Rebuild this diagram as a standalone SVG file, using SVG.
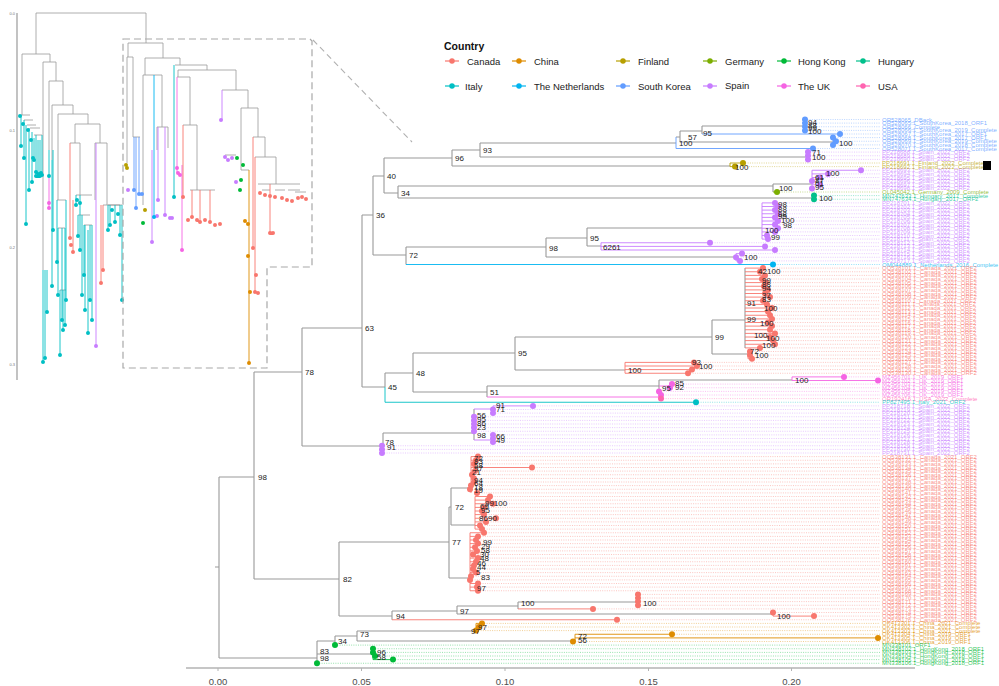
<svg xmlns="http://www.w3.org/2000/svg" width="999" height="686" viewBox="0 0 999 686">
<style>
.g{fill:none;stroke:#9a9a9a;stroke-width:1.1}
.ig{fill:none;stroke:#9a9a9a;stroke-width:0.8}
.il{fill:none;stroke-width:0.9}
.dt{fill:none;stroke-linecap:round;stroke-width:6}
.idt{fill:none;stroke-linecap:round;stroke-width:4}
.gd{fill:none;stroke-width:0.7;stroke-dasharray:1 1.3;opacity:0.6}
.tl{font-family:"Liberation Sans",Arial,sans-serif;font-size:6px;fill-opacity:0.8}
.bs{font-family:"Liberation Sans",Arial,sans-serif;font-size:8px;fill:#222}
.lg{font-family:"Liberation Sans",Arial,sans-serif;font-size:9.5px;fill:#222}
.ax{font-family:"Liberation Sans",Arial,sans-serif;font-size:9.5px;fill:#4d4d4d;text-anchor:middle}
.Ca{stroke:#F8766D}.Ch{stroke:#DE8C00}.Fi{stroke:#B79F00}.Ge{stroke:#7CAE00}.HK{stroke:#00BA38}.Hu{stroke:#00C08B}
.It{stroke:#00BFC4}.Ne{stroke:#00B4F0}.SK{stroke:#619CFF}.Sp{stroke:#C77CFF}.UK{stroke:#F564E3}.US{stroke:#FF64B0}
.tCa{fill:#F8766D}.tCh{fill:#DE8C00}.tFi{fill:#B79F00}.tGe{fill:#7CAE00}.tHK{fill:#00BA38}.tHu{fill:#00C08B}
.tIt{fill:#00BFC4}.tNe{fill:#00B4F0}.tSK{fill:#619CFF}.tSp{fill:#C77CFF}.tUK{fill:#F564E3}.tUS{fill:#FF64B0}
</style>

<!-- Inset overview tree -->
<g id="inset">
<path d="M17 13V380" stroke="#9a9a9a" stroke-width="1.2" fill="none"/>
<g font-family="Liberation Sans, Arial, sans-serif" font-size="4" fill="#777" text-anchor="end">
<text x="15" y="15">0.0</text><text x="15" y="132">0.1</text><text x="15" y="249">0.2</text><text x="15" y="366">0.3</text>
</g>
<path class="ig" d="M36 13H146M36 13V54M146 13V43M22 54H50M22 54V115M50 54V62M43 62H56M43 62V270M56 62V81M49 81H63M49 81V150M63 81V105M52 105H73M52 105V160M73 105V114M58 114H88M58 114V200M88 114V124M75 124H100M75 124V143M100 124V143M70 143H80M80 143V195M95 143H107M95 143V200M107 143V205M21 115H30M24 120H33M27 125H36M30 128H40M34 135H42M57 200H66M58 228H65M60 290H66M76 195H92M78 215H90M84 225H92M103 205H122M108 205H120M128 43H163M128 43V57M163 43V58M127 57H133M127 57V163M133 57V137M133 137H140M145 58H180M145 58V75M180 58V65M143 75H162M143 75V205M162 75V127M157 127H168M157 127V150M168 127V148M175 65H207M207 65V70M178 70H236M178 70V77M177 77H190M190 77V125M183 125H197M197 125V190M190 190H215M236 70V90M222 90H248M248 90V108M225 155H236M241 108H258M241 108V170M258 108V137M253 137H265M265 137V157M255 157H276M276 157V184M258 184H300M262 190H270M275 190H285M288 190H300M295 192H306M241 170H249"/>
<path class="il It" d="M21 115V146M24 120V158M26 125V224M29 128V190M32 132V182M34 138V160M36 135V176M38 140V176M40 140V176M42 135V175M43 270V362M45 270V358M47 270V312M52 160V286M53 150V230M49 150V176M57 200V262M58 228V295M60 290V355M63 290V330M62 228V320M65 228V325M66 200V300M76 195V205M78 215V236M80 195V250M82 215V295M84 225V275M85 225V310M88 230V333M90 225V300M92 225V320M108 205V230M110 205V225M115 205V222M120 205V235M122 205V300M174 65V197"/>
<path class="il UK" d="M49 176V208M177 77V173M182 165V250"/>
<path class="il Ca" d="M70 143V238M73 200V252M101 205V283M103 205V270M253 137V248M255 157V293M183 125V197M270 184V233M192 190V217M200 190V222M210 190V222"/>
<path class="il Sp" d="M96 143V346M222 90V120M152 150V242M158 127V200M165 127V215"/>
<path class="il SK" d="M134 137V190M136 137V208M139 137V194"/>
<path class="il Ne" d="M154 75V217"/>
<path class="il Ch" d="M249 170V363" stroke-width="1.6"/>
<path class="idt It" d="M21 146h0M24 158h0M26 224h0M29 190h0M32 182h0M34 160h0M36 176h0M38 176h0M40 176h0M42 175h0M43 362h0M45 358h0M47 312h0M52 286h0M53 230h0M49 176h0M57 262h0M58 295h0M60 355h0M63 330h0M62 320h0M65 325h0M66 300h0M76 205h0M78 236h0M80 250h0M82 295h0M84 275h0M85 310h0M88 333h0M90 300h0M92 320h0M108 230h0M110 225h0M115 222h0M120 235h0M122 300h0M174 197h0M20 116h0M23 124h0M28 130h0M31 140h0M33 158h0M36 172h0M39 174h0M41 173h0M77 200h0M80 203h0M112 210h0M118 214h0"/>
<path class="idt UK" d="M49 203h0M49 208h0M177 168h0M178 173h0M182 250h0M180 175h0"/>
<path class="idt Ca" d="M70 238h0M73 252h0M71 245h0M101 283h0M103 270h0M253 248h0M256 275h0M258 293h0M255 292h0M183 197h0M270 233h0M273 233h0M260 193h0M265 195h0M270 196h0M275 197h0M282 198h0M287 200h0M292 201h0M298 198h0M302 197h0M306 199h0M192 217h0M197 220h0M200 222h0M205 220h0M210 222h0M215 225h0M220 224h0M188 220h0"/>
<path class="idt Sp" d="M96 346h0M221 120h0M152 242h0M158 200h0M165 215h0M157 216h0M170 218h0M172 218h0M225 157h0M228 160h0M232 158h0M236 182h0M128 190h0"/>
<path class="idt SK" d="M134 190h0M136 208h0M139 194h0M142 194h0"/>
<path class="idt Ne" d="M154 217h0"/>
<path class="idt Ch" d="M249 363h0M248 256h0M250 292h0M245 221h0M248 224h0"/>
<path class="idt Fi" d="M126 165h0M127 168h0M145 210h0"/>
<path class="idt HK" d="M143 223h0M237 158h0M243 165h0M241 180h0M240 190h0"/>
<path d="M123 39H310L312 41V267H267V368H123Z" fill="none" stroke="#a8a8a8" stroke-width="1.2" stroke-dasharray="7 4"/>
</g>
<path id="zoom-link" d="M313 40L412 142" fill="none" stroke="#b0b0b0" stroke-width="1.1" stroke-dasharray="6 4"/>

<!-- Legend -->
<g id="legend">
<text x="444" y="50" font-family="Liberation Sans, Arial, sans-serif" font-size="10.5" font-weight="bold" fill="#111">Country</text>
<g stroke-width="1.2">
<path class="Ca" d="M445 61H459"/><path class="Ch" d="M512 61H526"/><path class="Fi" d="M616 61H630"/><path class="Ge" d="M703 61H717"/><path class="HK" d="M777 61H791"/><path class="Hu" d="M856 61H870"/>
<path class="It" d="M445 86H459"/><path class="Ne" d="M512 86H526"/><path class="SK" d="M616 86H630"/><path class="Sp" d="M703 86H717"/><path class="UK" d="M777 86H791"/><path class="US" d="M856 86H870"/>
</g>
<g stroke-linecap="round" stroke-width="5.5">
<path class="Ca" d="M452 61h0"/><path class="Ch" d="M519 61h0"/><path class="Fi" d="M623 61h0"/><path class="Ge" d="M710 61h0"/><path class="HK" d="M784 61h0"/><path class="Hu" d="M863 61h0"/>
<path class="It" d="M452 86h0"/><path class="Ne" d="M519 86h0"/><path class="SK" d="M623 86h0"/><path class="Sp" d="M710 86h0"/><path class="UK" d="M784 86h0"/><path class="US" d="M863 86h0"/>
</g>
<text class="lg" x="467" y="65">Canada</text><text class="lg" x="534" y="65">China</text><text class="lg" x="638" y="65">Finland</text><text class="lg" x="725" y="64.5">Germany</text><text class="lg" x="798" y="64.5">Hong Kong</text><text class="lg" x="878" y="64.5">Hungary</text>
<text class="lg" x="465" y="89.5">Italy</text><text class="lg" x="534" y="89.5">The Netherlands</text><text class="lg" x="638" y="89.5">South Korea</text><text class="lg" x="725" y="89">Spain</text><text class="lg" x="798" y="89.5">The UK</text><text class="lg" x="878" y="89.5">USA</text>
</g>

<!-- Axis -->
<g id="axis">
<path d="M186 668H915" stroke="#b3b3b3" stroke-width="1.6" fill="none"/>
<path d="M218 668v3M361.5 668v3M505 668v3M648.5 668v3M791.5 668v3" stroke="#b3b3b3" stroke-width="1" fill="none"/>
<text class="ax" x="218" y="685">0.00</text><text class="ax" x="361.5" y="685">0.05</text><text class="ax" x="505" y="685">0.10</text><text class="ax" x="648.5" y="685">0.15</text><text class="ax" x="791.5" y="685">0.20</text>
</g>

<!-- Connectors: guide lines, branches -->
<g id="connectors">
<path class="gd SK" d="M805 119.5H880M805 123.1H880M805 126.75H880M805 130.4H880M840 134H880M833 137.6H880M836 141.25H880M833 144.9H880M813 148.5H880"/>
<path class="gd Sp" d="M808 152.1H880M808 155.75H880M808 159.4H880M861 170.25H880M828 173.9H880M820 177.5H880M812 181.1H880M820 184.75H880M812 188.4H880M775 202.9H880M778 206.5H880M775 210.1H880M778 213.75H880M775 217.4H880M778 221H880M775 224.6H880M778 228.25H880M775 231.9H880M767 235.5H880M768 239.1H880M710 242.75H880M765 246.4H880M775 250H880M742 253.6H880M736 257.25H880M740 260.9H880M533 405.9H880M493 409.5H880M493 413.1H880M474 416.75H880M474 420.4H880M474 424H880M474 427.6H880M474 431.25H880M493 434.9H880M493 438.5H880M493 442.1H880M382 445.75H880M382 449.4H880M382 453H880"/>
<path class="gd Fi" d="M743 163H880M735 166.6H880"/>
<path class="gd Ge" d="M777 192H880"/>
<path class="gd Hu" d="M814 195.6H880M814 199.25H880"/>
<path class="gd Ne" d="M773 264.5H880"/>
<path class="gd Ca" d="M763 268.1H880M760 271.75H880M765 275.4H880M762 279H880M766 282.6H880M764 286.25H880M768 289.9H880M765 293.5H880M770 297.1H880M763 300.75H880M767 304.4H880M772 308H880M768 311.6H880M770 315.25H880M772 318.9H880M768 322.5H880M772 326.1H880M770 329.75H880M775 333.4H880M770 337H880M773 340.6H880M775 344.25H880M760 347.9H880M750 351.5H880M750 355.1H880M752 358.75H880M694 362.4H880M697 366H880M692 369.6H880M688 373.25H880M478 456.6H880M476 460.25H880M474 463.9H880M532 467.5H880M475 471.1H880M472 474.75H880M474 478.4H880M474 482H880M471 485.6H880M470 489.25H880M477 492.9H880M490 496.5H880M488 500.1H880M493 503.75H880M484 507.4H880M482 511H880M484 514.6H880M496 518.25H880M486 521.9H880M480 525.5H880M482 529.1H880M484 532.75H880M478 536.4H880M476 540H880M478 543.6H880M475 547.25H880M477 550.9H880M473 554.5H880M478 558.1H880M476 561.75H880M474 565.4H880M473 569H880M476 572.6H880M471 576.25H880M470 579.9H880M478 583.5H880M477 587.1H880M478 590.75H880M638 594.4H880M638 598H880M638 601.6H880M638 605.25H880M593 608.9H880M773 612.5H880M814 616.1H880M617 619.75H880"/>
<path class="gd UK" d="M844 376.9H880M878 380.5H880M672 384.1H880M670 387.75H880M659 391.4H880M661 395H880"/>
<path class="gd US" d="M661 398.6H880"/>
<path class="gd It" d="M696 402.25H880"/>
<path class="gd Ch" d="M482 623.4H880M479 627H880M476 630.6H880M672 634.25H880M878 637.9H880M573 641.5H880"/>
<path class="gd HK" d="M335 645.1H880M373 648.75H880M373 652.4H880M375 656H880M393 659.6H880M317 663.25H880"/>

<path class="g" d="M215 567H219M219 477V658M219 477H254M254 372V579M254 372H302M302 328V446M302 328H362M362 215V387M362 215H373M373 176V255M373 176H384M384 158V193M384 158H452M452 150V166M452 150H480M480 143V157M480 143H676M676 137H680M680 131V142M680 131H702M702 126V134M702 126H805M680 142H833M480 157H808M452 166H730M384 193H398M398 186V198M398 186H773M773 184V192M773 184H812M398 198H813M373 255H406M406 247V264.5M406 247H546M546 238V257M546 238H587M587 228V246M587 228H762M587 246H601M546 257H736M362 387H385M385 373V387M385 373H413M413 353V392M413 353H515M515 337V370M515 337H712M712 320V354M712 320H745M745 268V348M712 354H748M515 370H625M413 392H487M487 386V397M487 386H659M659 380V391.4M659 380H792M302 446H383M383 433V449M383 433H474M474 409V440M254 579H339M339 542V616M339 542H449M449 507V578M449 507H451M451 488V525M451 488H471M451 525H475M449 578H470M339 616H392M392 611V619.75M392 611H457M457 606V614M457 606H518M518 602V609M518 602H638M457 614H773M219 658H317M317 641V663.25M317 641H335M335 636V645.1M335 636H357M357 631V641M357 631H476M357 641H575M317 654H373"/>

<path class="il SK" stroke-width="1.1" d="M676 137V148.5M676 148.5H813M702 134H840M805 119.5V130.4M833 137.6V144.9M833 141.25H836"/>
<path class="il Sp" stroke-width="1.1" d="M808 152.1V159.4M812 170.25V188.4M812 170.25H861M812 173.9H828M812 177.5H820M812 184.75H820M762 202.9V239.1M762 202.9H775M762 206.5H778M762 210.1H775M762 213.75H778M762 217.4H775M762 221H778M762 224.6H775M762 228.25H778M762 231.9H775M762 235.5H767M762 239.1H768M601 242.75V250M601 242.75H710M601 246.4H765M601 250H775M736 253.6V260.9M736 253.6H742M736 260.9H740M474 409H493M493 405.9V413.1M493 405.9H533M474 416.75V431.25M474 440H493M493 434.9V442.1M383 445.75V453"/>
<path class="il Fi" stroke-width="1.1" d="M730 163V166.6M730 163H743M730 166.6H735"/>
<path class="il Ge" stroke-width="1.1" d="M773 192H777"/>
<path class="il Hu" stroke-width="1.1" d="M813 195.6V199.25"/>
<path class="il Ne" stroke-width="1.3" d="M406 264.5H773"/>
<path class="il Ca" stroke-width="1.1" d="M745 268.1H763M745 271.75H760M745 275.4H765M745 279H762M745 282.6H766M745 286.25H764M745 289.9H768M745 293.5H765M745 297.1H770M745 300.75H763M745 304.4H767M745 308H772M745 311.6H768M745 315.25H770M745 318.9H772M745 322.5H768M745 326.1H772M745 329.75H770M745 333.4H775M745 337H770M745 340.6H773M745 344.25H775M745 347.9H760M748 351.5V358.75M748 351.5H750M748 355.1H750M748 358.75H752M625 362.4V373.25M625 362.4H694M625 366H697M625 369.6H692M625 373.25H688M471 456.6V492.9M471 456.6H478M471 460.25H476M471 463.9H474M471 467.5H532M471 471.1H475M471 474.75H472M471 478.4H474M471 482H474M475 496.5V529.1M475 496.5H490M475 500.1H488M475 503.75H493M475 507.4H484M475 511H482M475 514.6H484M475 518.25H496M475 521.9H486M475 525.5H480M475 529.1H482M470 532.75V590.75M470 532.75H484M470 536.4H478M470 540H476M470 543.6H478M470 547.25H475M470 550.9H477M470 554.5H473M470 558.1H478M470 561.75H476M470 565.4H474M470 569H473M470 572.6H476M470 583.5H478M470 587.1H477M470 590.75H478M638 594.4V605.25M518 608.9H593M773 612.5V616.1M773 616.1H814M392 619.75H617"/>
<path class="il UK" stroke-width="1.1" d="M792 376.9V380.5M792 376.9H844M792 380.5H878M659 386H672M672 384.1V387.75M487 397H661M661 395V398.6"/>
<path class="il It" stroke-width="1.3" d="M385 387V402.25H696"/>
<path class="il Ch" stroke-width="1.1" d="M476 623.4V630.6M476 623.4H482M476 627H479M575 634.25V641.5M575 634.25H672M575 637.9H878"/>
<path class="il HK" stroke-width="1.1" d="M373 648.75V659.6M373 659.6H393M373 656H375"/>
</g>

<!-- Tip points -->
<g id="tips">
<path class="dt SK" d="M805 119.5h0M805 123.1h0M805 126.75h0M805 130.4h0M840 134h0M833 137.6h0M836 141.25h0M833 144.9h0M813 148.5h0"/>
<path class="dt Sp" d="M808 152.1h0M808 155.75h0M808 159.4h0M861 170.25h0M828 173.9h0M820 177.5h0M812 181.1h0M820 184.75h0M812 188.4h0M775 202.9h0M778 206.5h0M775 210.1h0M778 213.75h0M775 217.4h0M778 221h0M775 224.6h0M778 228.25h0M775 231.9h0M767 235.5h0M768 239.1h0M710 242.75h0M765 246.4h0M775 250h0M742 253.6h0M736 257.25h0M740 260.9h0M533 405.9h0M493 409.5h0M493 413.1h0M474 416.75h0M474 420.4h0M474 424h0M474 427.6h0M474 431.25h0M493 434.9h0M493 438.5h0M493 442.1h0M382 445.75h0M382 449.4h0M382 453h0"/>
<path class="dt Fi" d="M743 163h0M735 166.6h0"/>
<path class="dt Ge" d="M777 192h0"/>
<path class="dt Hu" d="M814 195.6h0M814 199.25h0"/>
<path class="dt Ne" d="M773 264.5h0"/>
<path class="dt Ca" d="M763 268.1h0M760 271.75h0M765 275.4h0M762 279h0M766 282.6h0M764 286.25h0M768 289.9h0M765 293.5h0M770 297.1h0M763 300.75h0M767 304.4h0M772 308h0M768 311.6h0M770 315.25h0M772 318.9h0M768 322.5h0M772 326.1h0M770 329.75h0M775 333.4h0M770 337h0M773 340.6h0M775 344.25h0M760 347.9h0M750 351.5h0M750 355.1h0M752 358.75h0M694 362.4h0M697 366h0M692 369.6h0M688 373.25h0M478 456.6h0M476 460.25h0M474 463.9h0M532 467.5h0M475 471.1h0M472 474.75h0M474 478.4h0M474 482h0M471 485.6h0M470 489.25h0M477 492.9h0M490 496.5h0M488 500.1h0M493 503.75h0M484 507.4h0M482 511h0M484 514.6h0M496 518.25h0M486 521.9h0M480 525.5h0M482 529.1h0M484 532.75h0M478 536.4h0M476 540h0M478 543.6h0M475 547.25h0M477 550.9h0M473 554.5h0M478 558.1h0M476 561.75h0M474 565.4h0M473 569h0M476 572.6h0M471 576.25h0M470 579.9h0M478 583.5h0M477 587.1h0M478 590.75h0M638 594.4h0M638 598h0M638 601.6h0M638 605.25h0M593 608.9h0M773 612.5h0M814 616.1h0M617 619.75h0"/>
<path class="dt UK" d="M844 376.9h0M878 380.5h0M672 384.1h0M670 387.75h0M659 391.4h0M661 395h0"/>
<path class="dt US" d="M661 398.6h0"/>
<path class="dt It" d="M696 402.25h0"/>
<path class="dt Ch" d="M482 623.4h0M479 627h0M476 630.6h0M672 634.25h0M878 637.9h0M573 641.5h0"/>
<path class="dt HK" d="M335 645.1h0M373 648.75h0M373 652.4h0M375 656h0M393 659.6h0M317 663.25h0"/>
</g>

<!-- Bootstrap support labels -->
<g id="support" class="bs">
<text x="258" y="480">98</text><text x="305" y="375">78</text><text x="365" y="331">63</text><text x="376" y="218">36</text><text x="387" y="179">40</text><text x="455" y="161">96</text><text x="483" y="153">93</text><text x="401" y="196">34</text><text x="409" y="258">72</text><text x="549" y="251">98</text><text x="590" y="241">95</text><text x="603" y="250">6261</text>
<text x="388" y="390">45</text><text x="416" y="376">48</text><text x="518" y="356">95</text><text x="715" y="340">99</text><text x="628" y="373">100</text><text x="490" y="395">51</text><text x="662" y="391">95</text><text x="675" y="386">85</text><text x="675" y="390">92</text><text x="795" y="383">100</text><text x="692" y="365">93</text><text x="699" y="369">100</text>
<text x="747" y="306">91</text><text x="747" y="322">99</text><text x="750" y="354">72</text><text x="755" y="358">100</text><text x="758" y="274">42</text><text x="767" y="274">100</text><text x="762" y="283">99</text><text x="762" y="287">88</text><text x="762" y="291">94</text><text x="762" y="298">37</text><text x="762" y="302">83</text><text x="764" y="311">100</text><text x="760" y="326">100</text><text x="754" y="338">100</text><text x="766" y="341">100</text><text x="762" y="348">100</text>
<text x="703" y="136">95</text><text x="688" y="140">57</text><text x="679" y="146">100</text><text x="808" y="125">94</text><text x="808" y="128">88</text><text x="808" y="131">99</text><text x="808" y="134">100</text><text x="839" y="146">100</text>
<text x="812" y="155">71</text><text x="812" y="160">100</text><text x="735" y="170">100</text><text x="815" y="180">61</text><text x="815" y="183">87</text><text x="815" y="186">61</text><text x="815" y="190">95</text><text x="826" y="176">100</text><text x="779" y="191">100</text><text x="819" y="201">100</text>
<text x="778" y="207">98</text><text x="778" y="212">88</text><text x="778" y="217">98</text><text x="778" y="219">95</text><text x="781" y="223">100</text><text x="783" y="228">98</text><text x="765" y="233">100</text><text x="771" y="240">99</text><text x="744" y="260">100</text>
<text x="385" y="445">78</text><text x="387" y="450">91</text><text x="477" y="438">98</text><text x="477" y="418">56</text><text x="477" y="422">95</text><text x="477" y="426">86</text><text x="477" y="430">23</text><text x="496" y="408">91</text><text x="496" y="412">71</text><text x="496" y="439">66</text><text x="496" y="443">49</text>
<text x="343" y="582">82</text><text x="452" y="545">77</text><text x="455" y="510">72</text><text x="396" y="619">94</text><text x="460" y="614">97</text><text x="521" y="606">100</text><text x="643" y="606">100</text><text x="777" y="619">100</text>
<text x="320" y="654">83</text><text x="320" y="661">98</text><text x="338" y="644">34</text><text x="360" y="637">73</text><text x="471" y="634">97</text><text x="478" y="630">97</text><text x="578" y="639">72</text><text x="578" y="643">56</text><text x="377" y="655">96</text><text x="377" y="660">58</text>
<text x="474" y="461">72</text><text x="474" y="464">83</text><text x="474" y="468">58</text><text x="474" y="471">97</text><text x="472" y="475">21</text><text x="474" y="483">94</text><text x="474" y="486">64</text><text x="474" y="490">18</text><text x="474" y="493">19</text><text x="485" y="506">99100</text><text x="480" y="509">69</text><text x="481" y="513">95</text><text x="479" y="521">86</text><text x="488" y="521">90</text>
<text x="483" y="545">99</text><text x="481" y="549">29</text><text x="481" y="553">58</text><text x="480" y="557">30</text><text x="480" y="561">48</text><text x="477" y="566">46</text><text x="477" y="570">44</text><text x="476" y="575">5</text><text x="481" y="580">83</text><text x="477" y="591">97</text>
</g>

<!-- Tip labels -->
<g id="tip-labels" class="tl">
<g class="tSK">
<text x="882" y="121.5">OR528065_DBack</text><text x="882" y="125.1">OR528065.1_SouthKorea_2018_ORF1</text><text x="882" y="128.75">OR528066_Complete</text><text x="882" y="132.4">OR528066.1_SouthKorea_2019_Complete</text><text x="882" y="136">OR528067.1_SouthKorea_2017_ORF1</text><text x="882" y="139.6">OR528068.1_SouthKorea_2017_ORF1</text><text x="882" y="143.25">OR528069.1_SouthKorea_2019_Complete</text><text x="882" y="146.9">OR528070.1_SouthKorea_2018_Complete</text><text x="882" y="150.5">OR528071.1_SouthKorea_2017_Complete</text>
</g>
<g class="tSp">
<text x="882" y="154.1">PP218688.1_Spain_2022_ORF2</text><text x="882" y="157.75">PP218689.1_Spain_2022_ORF2</text><text x="882" y="161.4">PP218690.1_Spain_2022_ORF2</text>
<text x="882" y="172.25">PP218693.1_Spain_2022_ORF2</text><text x="882" y="175.9">PP218694.1_Spain_2022_ORF2</text><text x="882" y="179.5">PP218695.1_Spain_2022_ORF2</text><text x="882" y="183.1">PP218696.1_Spain_2022_ORF2</text><text x="882" y="186.75">PP218697.1_Spain_2022_ORF2</text><text x="882" y="190.4">PP218698.1_Spain_2022_ORF2</text>
<text x="882" y="204.9">PP218701.1_Spain_2022_ORF2</text><text x="882" y="208.5">PP218702.1_Spain_2022_ORF2</text><text x="882" y="212.1">PP218703.1_Spain_2022_ORF2</text><text x="882" y="215.75">PP218704.1_Spain_2022_ORF2</text><text x="882" y="219.4">PP218705.1_Spain_2022_ORF2</text><text x="882" y="223">PP218706.1_Spain_2022_ORF2</text><text x="882" y="226.6">PP218707.1_Spain_2022_ORF2</text><text x="882" y="230.25">PP218708.1_Spain_2022_ORF2</text><text x="882" y="233.9">PP218709.1_Spain_2022_ORF2</text><text x="882" y="237.5">PP218710.1_Spain_2022_ORF2</text><text x="882" y="241.1">PP218711.1_Spain_2022_ORF2</text><text x="882" y="244.75">PP218712.1_Spain_2022_ORF2</text><text x="882" y="248.4">PP218713.1_Spain_2022_ORF2</text><text x="882" y="252">PP218714.1_Spain_2022_ORF2</text><text x="882" y="255.6">PP218715.1_Spain_2022_ORF2</text><text x="882" y="259.25">PP218716.1_Spain_2022_ORF2</text><text x="882" y="262.9">PP218717.1_Spain_2022_ORF2</text>
<text x="882" y="407.9">PP218718.1_Spain_2022_ORF2</text><text x="882" y="411.5">PP218719.1_Spain_2022_ORF2</text><text x="882" y="415.1">PP218720.1_Spain_2022_ORF2</text><text x="882" y="418.75">PP218721.1_Spain_2022_ORF2</text><text x="882" y="422.4">PP218722.1_Spain_2022_ORF2</text><text x="882" y="426">PP218723.1_Spain_2022_ORF2</text><text x="882" y="429.6">PP218724.1_Spain_2022_ORF2</text><text x="882" y="433.25">PP218725.1_Spain_2022_ORF2</text><text x="882" y="436.9">PP218726.1_Spain_2022_ORF2</text><text x="882" y="440.5">PP218727.1_Spain_2022_ORF2</text><text x="882" y="444.1">PP218728.1_Spain_2022_ORF2</text><text x="882" y="447.75">PP218729.1_Spain_2022_ORF2</text><text x="882" y="451.4">PP218730.1_Spain_2022_ORF2</text><text x="882" y="455">PP218731.1_Spain_2022_ORF2</text>
</g>
<g class="tFi"><text x="882" y="165">PP218691.1_Finland_2022_Complete</text><text x="882" y="168.6">PP218692.1_Finland_2022_Complete</text></g>
<g class="tGe"><text x="882" y="194">OL045042.1_Germany_2009_Complete</text></g>
<g class="tHu"><text x="882" y="197.6">MN747633.1_Hungary_2017_Complete</text><text x="882" y="201.25">MN747634.1_Hungary_2017_ORF2</text></g>
<g class="tNe"><text x="882" y="266.5">OM044889.1_Netherlands_2016_Complete</text></g>
<g class="tCa">
<text x="882" y="270.1">OQ538101.1_Canada_2021_ORF2</text><text x="882" y="273.75">OQ538102.1_Canada_2021_ORF2</text><text x="882" y="277.4">OQ538103.1_Canada_2021_ORF2</text><text x="882" y="281">OQ538104.1_Canada_2021_ORF2</text><text x="882" y="284.6">OQ538105.1_Canada_2021_ORF2</text><text x="882" y="288.25">OQ538106.1_Canada_2021_ORF2</text><text x="882" y="291.9">OQ538107.1_Canada_2021_ORF2</text><text x="882" y="295.5">OQ538108.1_Canada_2021_ORF2</text><text x="882" y="299.1">OQ538109.1_Canada_2021_ORF2</text><text x="882" y="302.75">OQ538110.1_Canada_2021_ORF2</text><text x="882" y="306.4">OQ538111.1_Canada_2021_ORF2</text><text x="882" y="310">OQ538112.1_Canada_2021_ORF2</text><text x="882" y="313.6">OQ538113.1_Canada_2021_ORF2</text><text x="882" y="317.25">OQ538114.1_Canada_2021_ORF2</text><text x="882" y="320.9">OQ538115.1_Canada_2021_ORF2</text><text x="882" y="324.5">OQ538116.1_Canada_2021_ORF2</text><text x="882" y="328.1">OQ538117.1_Canada_2021_ORF2</text><text x="882" y="331.75">OQ538118.1_Canada_2021_ORF2</text><text x="882" y="335.4">OQ538119.1_Canada_2021_ORF2</text><text x="882" y="339">OQ538120.1_Canada_2021_ORF2</text><text x="882" y="342.6">OQ538121.1_Canada_2021_ORF2</text><text x="882" y="346.25">OQ538122.1_Canada_2021_ORF2</text><text x="882" y="349.9">OQ538123.1_Canada_2021_ORF2</text><text x="882" y="353.5">OQ538124.1_Canada_2021_ORF2</text><text x="882" y="357.1">OQ538125.1_Canada_2021_ORF2</text><text x="882" y="360.75">OQ538126.1_Canada_2021_ORF2</text><text x="882" y="364.4">OQ538127.1_Canada_2021_ORF2</text><text x="882" y="368">OQ538128.1_Canada_2021_ORF2</text><text x="882" y="371.6">OQ538129.1_Canada_2021_ORF2</text><text x="882" y="375.25">OQ538130.1_Canada_2021_ORF2</text>
<text x="882" y="458.6">OQ538131.1_Canada_2021_ORF2</text><text x="882" y="462.25">OQ538132.1_Canada_2021_ORF2</text><text x="882" y="465.9">OQ538133.1_Canada_2021_ORF2</text><text x="882" y="469.5">OQ538134.1_Canada_2021_ORF2</text><text x="882" y="473.1">OQ538135.1_Canada_2021_ORF2</text><text x="882" y="476.75">OQ538136.1_Canada_2021_ORF2</text><text x="882" y="480.4">OQ538137.1_Canada_2021_ORF2</text><text x="882" y="484">OQ538138.1_Canada_2021_ORF2</text><text x="882" y="487.6">OQ538139.1_Canada_2021_ORF2</text><text x="882" y="491.25">OQ538140.1_Canada_2021_ORF2</text><text x="882" y="494.9">OQ538141.1_Canada_2021_ORF2</text><text x="882" y="498.5">OQ538142.1_Canada_2021_ORF2</text><text x="882" y="502.1">OQ538143.1_Canada_2021_ORF2</text><text x="882" y="505.75">OQ538144.1_Canada_2021_ORF2</text><text x="882" y="509.4">OQ538145.1_Canada_2021_ORF2</text><text x="882" y="513">OQ538146.1_Canada_2021_ORF2</text><text x="882" y="516.6">OQ538147.1_Canada_2021_ORF2</text><text x="882" y="520.25">OQ538148.1_Canada_2021_ORF2</text><text x="882" y="523.9">OQ538149.1_Canada_2021_ORF2</text><text x="882" y="527.5">OQ538150.1_Canada_2021_ORF2</text><text x="882" y="531.1">OQ538151.1_Canada_2021_ORF2</text><text x="882" y="534.75">OQ538152.1_Canada_2021_ORF2</text><text x="882" y="538.4">OQ538153.1_Canada_2021_ORF2</text><text x="882" y="542">OQ538154.1_Canada_2021_ORF2</text><text x="882" y="545.6">OQ538155.1_Canada_2021_ORF2</text><text x="882" y="549.25">OQ538156.1_Canada_2021_ORF2</text><text x="882" y="552.9">OQ538157.1_Canada_2021_ORF2</text><text x="882" y="556.5">OQ538158.1_Canada_2021_ORF2</text><text x="882" y="560.1">OQ538159.1_Canada_2021_ORF2</text><text x="882" y="563.75">OQ538160.1_Canada_2021_ORF2</text><text x="882" y="567.4">OQ538161.1_Canada_2021_ORF2</text><text x="882" y="571">OQ538162.1_Canada_2021_ORF2</text><text x="882" y="574.6">OQ538163.1_Canada_2021_ORF2</text><text x="882" y="578.25">OQ538164.1_Canada_2021_ORF2</text><text x="882" y="581.9">OQ538165.1_Canada_2021_ORF2</text><text x="882" y="585.5">OQ538166.1_Canada_2021_ORF2</text><text x="882" y="589.1">OQ538167.1_Canada_2021_ORF2</text><text x="882" y="592.75">OQ538168.1_Canada_2021_ORF2</text><text x="882" y="596.4">OQ538169.1_Canada_2021_ORF2</text><text x="882" y="600">OQ538170.1_Canada_2021_ORF2</text><text x="882" y="603.6">OQ538171.1_Canada_2021_ORF2</text><text x="882" y="607.25">OQ538172.1_Canada_2021_ORF2</text><text x="882" y="610.9">OQ538173.1_Canada_2021_ORF2</text><text x="882" y="614.5">OQ538174.1_Canada_2021_ORF2</text><text x="882" y="618.1">OQ538175.1_Canada_2021_ORF2</text><text x="882" y="621.75">OQ538176.1_Canada_2021_ORF2</text>
</g>
<g class="tUK"><text x="882" y="378.9">MZ456701.1_UK_2019_ORF1</text><text x="882" y="382.5">MZ456702.1_UK_2019_ORF1</text><text x="882" y="386.1">MZ456703.1_UK_2019_ORF1</text><text x="882" y="389.75">MZ456704.1_UK_2019_ORF1</text><text x="882" y="393.4">MZ456705.1_UK_2019_ORF1</text><text x="882" y="397">MZ456706.1_UK_2019_ORF1</text></g>
<g class="tUS"><text x="882" y="400.6">OR192416.1_USA_2022_Complete</text></g>
<g class="tIt"><text x="882" y="404.25">PP827495.1_Italy_2021_ORF2</text></g>
<g class="tCh"><text x="882" y="625.4">OK413301.1_China_2021_Complete</text><text x="882" y="629">OK413302.1_China_2021_Complete</text><text x="882" y="632.6">OK413303.1_China_2021_Complete</text><text x="882" y="636.25">OK413304.1_China_2019_ORF1</text><text x="882" y="639.9">OK413305.1_China_2019_ORF1</text><text x="882" y="643.5">OK413306.1_China_2019_ORF1</text></g>
<g class="tHK"><text x="882" y="647.1">MN338101_ORF1</text><text x="882" y="650.75">MN338102.1_HongKong_2018_ORF1</text><text x="882" y="654.4">MN338103.1_HongKong_2018_ORF1</text><text x="882" y="658">MN338104.1_HongKong_2018_ORF1</text><text x="882" y="661.6">MN338105.1_HongKong_2018_ORF1</text><text x="882" y="665.25">MN338106.1_HongKong_2018_ORF1</text></g>
</g>
<rect id="marker" x="983" y="161" width="8" height="9" fill="#000"/>
</svg>
